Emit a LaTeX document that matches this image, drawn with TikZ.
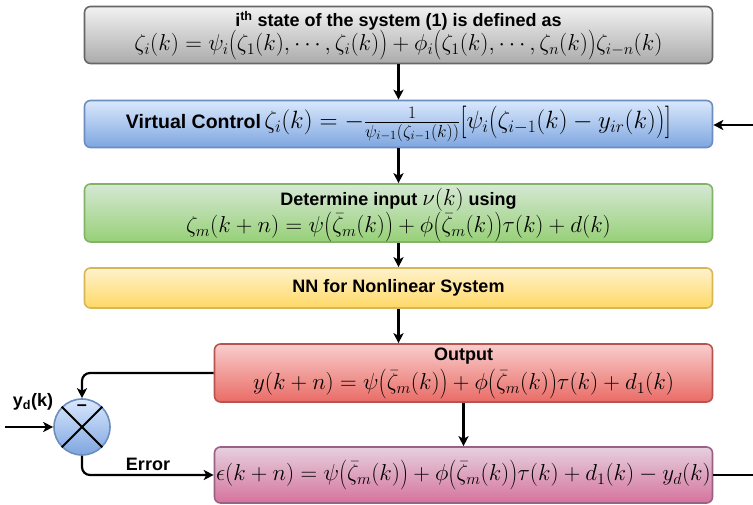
\RequirePackage{fix-cm}
\documentclass[tikz,border=0pt]{standalone}
\usepackage{graphicx}
\usepackage{fontspec}
\newfontfamily\lab{Liberation Sans}
\usetikzlibrary{arrows.meta,shapes.geometric}

% fill / stroke colours of the blocks
\definecolor{grayT}{HTML}{F2F2F2}\definecolor{grayB}{HTML}{ABABAB}\definecolor{grayD}{HTML}{666666}
\definecolor{blueT}{HTML}{DAE8FC}\definecolor{blueB}{HTML}{7EA6E0}\definecolor{blueD}{HTML}{6C8EBF}
\definecolor{greenT}{HTML}{D5E8D4}\definecolor{greenB}{HTML}{97D077}\definecolor{greenD}{HTML}{82B366}
\definecolor{yelT}{HTML}{FFF2CC}\definecolor{yelB}{HTML}{FFD966}\definecolor{yelD}{HTML}{D6B656}
\definecolor{redT}{HTML}{F8CECC}\definecolor{redB}{HTML}{EA6B66}\definecolor{redD}{HTML}{B85450}
\definecolor{pinkT}{HTML}{E6D0DE}\definecolor{pinkB}{HTML}{D5739D}\definecolor{pinkD}{HTML}{996185}

\newcommand{\ttl}{\lab\bfseries\fontsize{18}{21}\selectfont}
\newcommand{\eqsz}{\fontsize{23}{27}\selectfont}
% the one-line virtual control row is set a little larger
\newcommand{\ttlv}{\lab\bfseries\fontsize{19.5}{23}\selectfont}
\newcommand{\eqszv}{\fontsize{25}{29}\selectfont}
% slightly enlarged delimiters (stretched vertically about the math axis)
\newcommand{\tallen}[1]{\vcenter{\hbox{\scalebox{1}[1.3]{$#1$}}}}
\newcommand{\bo}{\mathopen{\tallen{(}}}
\newcommand{\bc}{\mathclose{\tallen{)}}}
\newcommand{\bso}{\mathopen{\tallen{[}}}
\newcommand{\bsc}{\mathclose{\tallen{]}}}

\begin{document}
\begin{tikzpicture}[x=1pt,y=-1pt,
  blk/.style={draw, line width=1.6pt, rounded corners=6pt, inner sep=0pt,
    align=center, minimum width=628pt},
  graybox/.style={blk, draw=grayD, top color=grayT, bottom color=grayB},
  bluebox/.style={blk, draw=blueD, top color=blueT, bottom color=blueB},
  greenbox/.style={blk, draw=greenD, top color=greenT, bottom color=greenB},
  yelbox/.style={blk, draw=yelD, top color=yelT, bottom color=yelB},
  redbox/.style={blk, draw=redD, top color=redT, bottom color=redB, minimum width=498pt},
  pinkbox/.style={blk, draw=pinkD, top color=pinkT, bottom color=pinkB, minimum width=498pt},
  conn/.style={line width=2.2pt, rounded corners=8pt},
  arr/.style={conn, -{Stealth[length=10pt,width=10pt,inset=2.5pt]}},
  tag/.style={font=\ttl, inner sep=0pt},
  eqn/.style={font=\eqsz, inner sep=0pt}
]
\useasboundingbox (0,0) rectangle (753,505);

% main chain of blocks
\node[graybox, minimum height=57pt] (state) at (398.5,35) {};
\node[tag] (stateT) at (398.5,21) {i\textsuperscript{th} state of the system (1) is defined as};
\node[eqn] (stateE) at (398.5,45)
  {$\zeta_i(k)=\psi_i\bo\zeta_1(k),\cdots,\zeta_i(k)\bc+\phi_i\bo\zeta_1(k),\cdots,\zeta_n(k)\bc\zeta_{i-n}(k)$};

\node[bluebox, minimum height=47pt] (virt) at (398.5,124)
  {{\ttlv Virtual Control} {\eqszv $\zeta_i(k)=-\frac{1}{\psi_{i-1}(\zeta_{i-1}(k))}\bso\psi_i\bo\zeta_{i-1}(k)-y_{ir}(k)\bc\bsc$}};

\node[greenbox, minimum height=58pt] (input) at (398.5,213) {};
\node[tag] (inputT) at (398.5,200) {Determine input {\eqsz$\nu(k)$} using};
\node[eqn] (inputE) at (398.5,227)
  {$\zeta_m(k+n)=\psi\bo\bar{\zeta}_m(k)\bc+\phi\bo\bar{\zeta}_m(k)\bc\tau(k)+d(k)$};

\node[yelbox, minimum height=40pt] (nn) at (398.5,288)
  {\ttl NN for Nonlinear System};

\node[redbox, minimum height=58pt] (out) at (463.5,373) {};
\node[tag] (outT) at (463.5,356) {Output};
\node[eqn] (outE) at (463.5,384)
  {$y(k+n)=\psi\bo\bar{\zeta}_m(k)\bc+\phi\bo\bar{\zeta}_m(k)\bc\tau(k)+d_1(k)$};

\node[pinkbox, minimum height=56pt] (err) at (463.5,475)
  {\eqsz $\epsilon(k+n)=\psi\bo\bar{\zeta}_m(k)\bc+\phi\bo\bar{\zeta}_m(k)\bc\tau(k)+d_1(k)-y_d(k)$};

% summing junction
\node[circle, draw=blueD, line width=1.6pt, top color=blueT, bottom color=blueB,
      minimum size=56pt, inner sep=0pt] (sum) at (82,427) {};
\draw[line width=2pt] (sum.north west) -- (sum.south east);
\draw[line width=2pt] (sum.north east) -- (sum.south west);
\node[tag] (minus) at (82,408) {–};

% free ends of the outer connectors
\coordinate (ydin) at (5,427);
\coordinate (fbin) at (753,125);
\coordinate (fbout) at (753,475);

% connectors
\draw[arr] (state) -- (virt);
\draw[arr] (virt) -- (input);
\draw[arr] (input) -- (nn);
\draw[arr] (nn.south) -- (nn.south |- out.north);
\draw[arr] (out) -- (err);
\draw[arr] (out.west) -| (sum.north);
\draw[arr] (ydin) -- (sum.west);
\draw[arr] (sum.south) |- (err.west);
\draw[arr] (fbin) -- (virt.east |- fbin);
\draw[conn] (err.east) -- (err.east -| fbout);

% labels
\node[tag] (yd) at (33,402) {y\textsubscript{d}(k)};
\node[tag] (errlbl) at (148,464) {Error};
\end{tikzpicture}
\end{document}
